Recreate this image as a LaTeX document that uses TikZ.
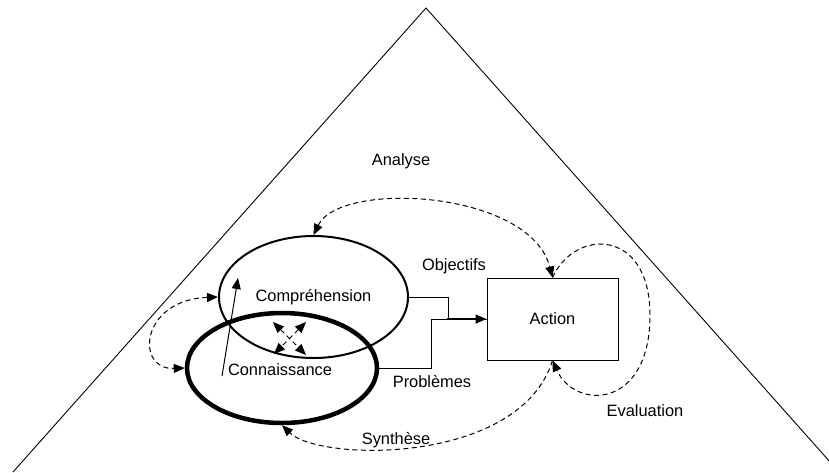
\documentclass[tikz,border=0pt]{standalone}
\usepackage{fontspec}
\setmainfont{Liberation Sans}
\usetikzlibrary{shapes.geometric,arrows.meta}
\begin{document}
\begin{tikzpicture}[x=1pt,y=-1pt,
  every node/.style={font=\fontsize{16.4}{19}\selectfont},
  tip/.style={-{Triangle[length=11pt,width=9pt]}},
  dtip/.style={{Triangle[length=11pt,width=9pt]}-{Triangle[length=11pt,width=9pt]}},
  dashline/.style={dashed,dash pattern=on 5pt off 3.5pt,line width=1pt},
  lbl/.style={inner sep=0pt}]
\useasboundingbox (0,0) rectangle (829,472);
\begin{scope}
\clip (0,0) rectangle (829,472);
\coordinate (apex) at (426,8);
\coordinate (bl) at (13,472);
\coordinate (br) at (839,472);
\draw[line width=0.9pt] (bl) -- (apex) -- (br);
\end{scope}

\node[ellipse,draw,line width=2pt,minimum width=189pt,minimum height=122pt,inner sep=0pt] (comp) at (313.5,297) {Compréhension};
\node[ellipse,draw,line width=4.5pt,minimum width=190pt,minimum height=110pt,inner sep=0pt] (conn) at (282,368) {};
\node[lbl] (connl) at (280,370) {Connaissance};
\node[draw,line width=1pt,minimum width=131pt,minimum height=82pt,inner sep=0pt] (action) at (552.5,319) {Action};

\node[lbl] (ana) at (401,161) {Analyse};
\node[lbl] (obj) at (454,266) {Objectifs};
\node[lbl] (prob) at (432,382) {Problèmes};
\node[lbl] (eval) at (645,411) {Evaluation};
\node[lbl] (syn) at (396,440) {Synthèse};

% solid connectors to Action
\draw[line width=1pt] (comp.east) -- ++(39,0) |- (action.west);
\draw[line width=1pt] (conn.east) -- ++(52,0) |- (action.west);
\draw[line width=1.5pt,tip] (447,319) -- (action.west);

% dashed curves
\draw[dashline,dtip] (comp.north) .. controls (340,180) and (530,190) .. (action.north);
\draw[dashline,dtip] (comp.west) .. controls (140,300) and (135,370) .. (conn.west);
\draw[dashline,tip] (action.north) .. controls (575,228) and (650,228) .. (650,315)
   .. controls (650,410) and (575,410) .. (action.south);
\draw[dashline,tip] (action.south) .. controls (520,465) and (320,462) .. (conn.south);

% solid arrow across
\coordinate (sa) at (222,376);
\coordinate (sb) at (238,278);
\draw[line width=1pt,tip] (sa) -- (sb);

% dashed cross
\coordinate (x1) at (273,322);
\coordinate (x2) at (306,355);
\coordinate (x3) at (306,322);
\coordinate (x4) at (274,354);
\draw[dashline,dtip] (x1) -- (x2);
\draw[dashline,dtip] (x3) -- (x4);
\end{tikzpicture}
\end{document}
